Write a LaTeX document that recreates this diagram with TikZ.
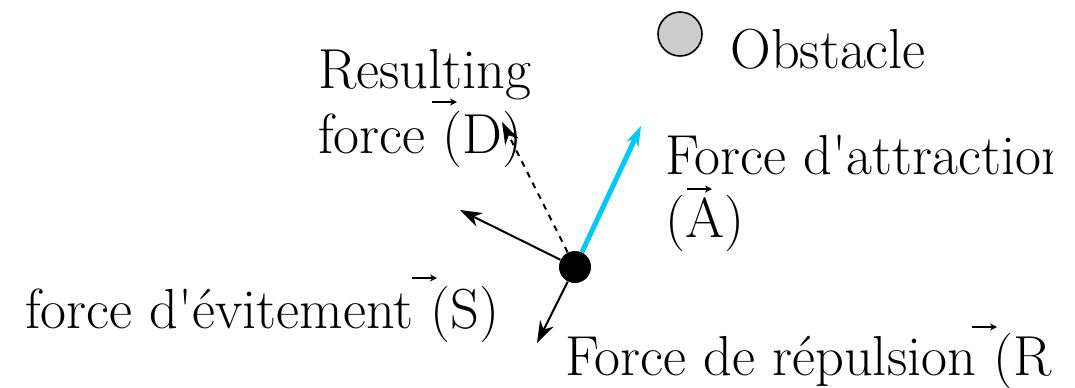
\documentclass[tikz,border=0pt]{standalone}
\usepackage{fontspec}
\usetikzlibrary{arrows.meta}
\definecolor{attract}{RGB}{0,200,255}
\begin{document}
\begin{tikzpicture}[x=0.5pt,y=-0.5pt,
  lbl/.style={anchor=base west,inner sep=0pt,font=\fontsize{28.2}{34}\selectfont},
  force/.style={line width=1pt,-{Stealth[length=11pt,width=7.5pt,inset=3.5pt]}},
  vecarr/.style={line width=0.9pt,-{Stealth[length=3.5pt,width=3.5pt]}}]
  \useasboundingbox (0,0) rectangle (1075,387);
  \clip (0,0) rectangle (1075,387);
  % robot and obstacle
  \node[circle,fill=black,inner sep=0pt,minimum size=16pt] (p) at (575,267) {};
  \node[circle,draw,line width=0.8pt,fill=black!20,inner sep=0pt,minimum size=22pt] (obs) at (680,34) {};
  % labels
  \node[lbl] (obslab) at (730,68) {Obstacle};
  \node[lbl] (res1) at (318,88) {Resulting};
  \node[lbl] (res2) at (318,153) {force (D)};
  \begin{scope}
    \clip (0,0) rectangle (1052,387);
    \node[lbl] (att1) at (665,174) {Force d\textquotesingle attraction};
    \node[lbl] (rep) at (565,375) {Force de répulsion (R)};
  \end{scope}
  \node[lbl] (att2) at (665,237) {(A)};
  \node[lbl] (evit) at (25,328) {force d\textquotesingle évitement (S)};
  % vector marks
  \foreach \x/\y in {432/102, 687/189, 412/278, 972/327}
    \draw[vecarr] (\x,\y) -- ++(25,0);
  % forces
  \coordinate (d) at (502,122);
  \coordinate (a) at (641,126);
  \coordinate (s) at (460,210);
  \coordinate (r) at (537,343);
  \draw[force,dashed] (p) -- (d);
  \draw[attract,line width=2.5pt,-{Stealth[length=10pt,width=6.5pt,inset=3pt]}] (p) -- (a);
  \draw[force] (p) -- (s);
  \draw[force] (p) -- (r);
\end{tikzpicture}
\end{document}
